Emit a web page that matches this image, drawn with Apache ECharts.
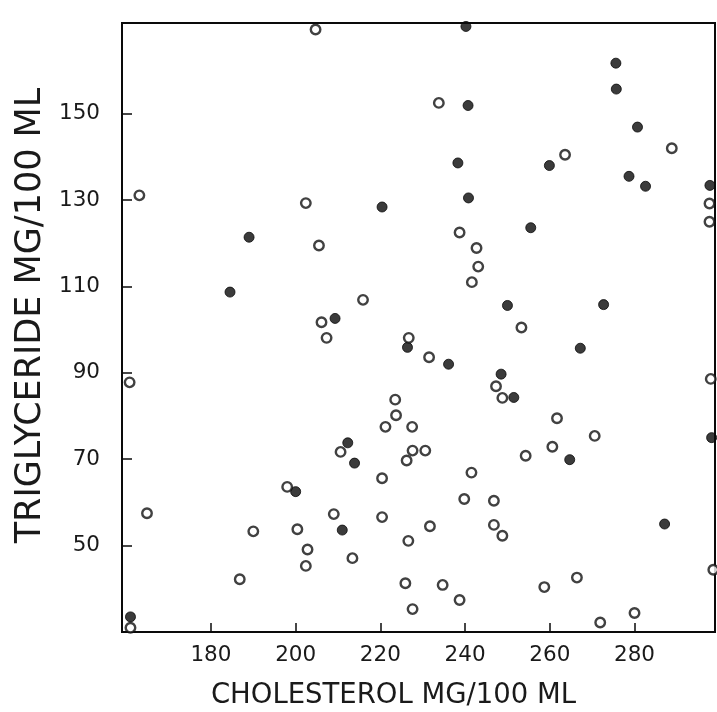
<!DOCTYPE html>
<html>
<head>
<meta charset="utf-8">
<script src="https://cdn.jsdelivr.net/npm/echarts@6/dist/echarts.min.js"></script>
<style>
html,body{margin:0;padding:0;background:#fff;}
#chart{width:717px;height:712px;}
</style>
</head>
<body>
<div id="chart"></div>
<script>
// Filled circles
var filledChol = [189.0, 184.5, 220.4, 209.3, 240.2, 275.6, 275.7, 240.7, 280.7, 238.3, 259.9, 278.7, 282.6, 297.8, 240.8, 255.5, 250.0, 272.7, 226.4, 267.2, 236.1, 248.5, 251.5, 212.3, 213.9, 200.0, 211.0, 264.7, 298.2, 287.1, 161.0];
var filledTrig = [121.4, 108.7, 128.4, 102.6, 170.2, 161.7, 155.7, 151.9, 146.9, 138.6, 138.0, 135.5, 133.2, 133.4, 130.5, 123.6, 105.6, 105.8, 95.9, 95.7, 92.0, 89.7, 84.3, 73.8, 69.1, 62.5, 53.6, 69.9, 75.0, 55.0, 33.5];
// Open circles
var openChol = [204.7, 163.1, 202.4, 205.5, 215.9, 206.1, 233.8, 288.8, 263.6, 297.7, 297.7, 238.7, 242.7, 243.1, 241.6, 253.3, 207.3, 226.7, 160.8, 223.5, 223.7, 221.2, 227.5, 210.6, 226.2, 220.4, 198.0, 164.9, 209.0, 220.4, 190.0, 200.4, 226.6, 202.8, 213.4, 202.4, 186.8, 225.9, 227.6, 161.0, 231.5, 247.3, 248.8, 298.0, 261.7, 270.6, 227.6, 230.6, 260.6, 254.3, 241.5, 239.8, 246.8, 231.7, 246.8, 248.8, 298.6, 234.7, 266.4, 258.7, 238.7, 280.0, 271.9];
var openTrig = [169.5, 131.1, 129.3, 119.5, 106.9, 101.7, 152.5, 142.0, 140.5, 129.2, 125.0, 122.5, 118.9, 114.6, 111.0, 100.5, 98.1, 98.1, 87.8, 83.8, 80.2, 77.5, 77.5, 71.7, 69.7, 65.6, 63.6, 57.5, 57.3, 56.6, 53.3, 53.8, 51.1, 49.1, 47.1, 45.3, 42.2, 41.3, 35.3, 31.0, 93.6, 86.9, 84.2, 88.6, 79.5, 75.4, 72.0, 72.0, 72.9, 70.8, 66.9, 60.8, 60.4, 54.5, 54.8, 52.3, 44.4, 40.9, 42.6, 40.4, 37.4, 34.4, 32.2];
// Tick labels
var xTicks = [180, 200, 220, 240, 260, 280];
var yTicks = [50, 70, 90, 110, 130, 150];
var xTitle = 'CHOLESTEROL MG/100 ML';
var yTitle = 'TRIGLYCERIDE MG/100 ML';

function pairs(xs, ys) { return xs.map(function (x, i) { return [x, ys[i]]; }); }

var ink = '#0a0a0a';
var textInk = '#1a1a1a';
var chart = echarts.init(document.getElementById('chart'));
chart.setOption({
  animation: false,
  backgroundColor: '#fff',
  grid: { left: 122, top: 23, right: 2, bottom: 80, containLabel: false, outerBoundsMode: 'none', show: true, borderColor: ink, borderWidth: 2, backgroundColor: 'transparent' },
  xAxis: {
    type: 'value', min: 159, max: 299,
    name: xTitle, nameLocation: 'middle', nameGap: 50,
    nameTextStyle: { fontFamily: 'DejaVu Sans', fontSize: 27.5, color: textInk, padding: [0, 50, 0, 0] },
    axisLine: { show: true, lineStyle: { color: ink, width: 2 } },
    axisTick: { show: true, inside: true, length: 9, lineStyle: { color: ink, width: 1.5 }, customValues: xTicks },
    axisLabel: { show: true, margin: 12, fontFamily: 'DejaVu Sans', fontSize: 21.5, color: textInk, customValues: xTicks },
    splitLine: { show: false }
  },
  yAxis: {
    type: 'value', min: 30, max: 171,
    name: yTitle, nameLocation: 'middle', nameGap: 67,
    nameTextStyle: { fontFamily: 'DejaVu Sans', fontSize: 35, color: textInk, padding: [0, 0, 0, 24] },
    axisLine: { show: true, lineStyle: { color: ink, width: 2 } },
    axisTick: { show: true, inside: true, length: 10, lineStyle: { color: ink, width: 1.5 }, customValues: yTicks },
    axisLabel: { show: true, margin: 22, fontFamily: 'DejaVu Sans', fontSize: 21.5, color: textInk, customValues: yTicks },
    splitLine: { show: false }
  },
  series: [
    {
      name: 'Filled', type: 'scatter', clip: false,
      data: pairs(filledChol, filledTrig),
      symbol: 'circle', symbolSize: 10,
      itemStyle: { color: ink, borderColor: ink, borderWidth: 1 }
    },
    {
      name: 'Open', type: 'scatter', clip: false,
      data: pairs(openChol, openTrig),
      symbol: 'circle', symbolSize: 9.5,
      itemStyle: { color: '#fff', borderColor: '#111', borderWidth: 2.4 }
    }
  ]
});
</script>
</body>
</html>
